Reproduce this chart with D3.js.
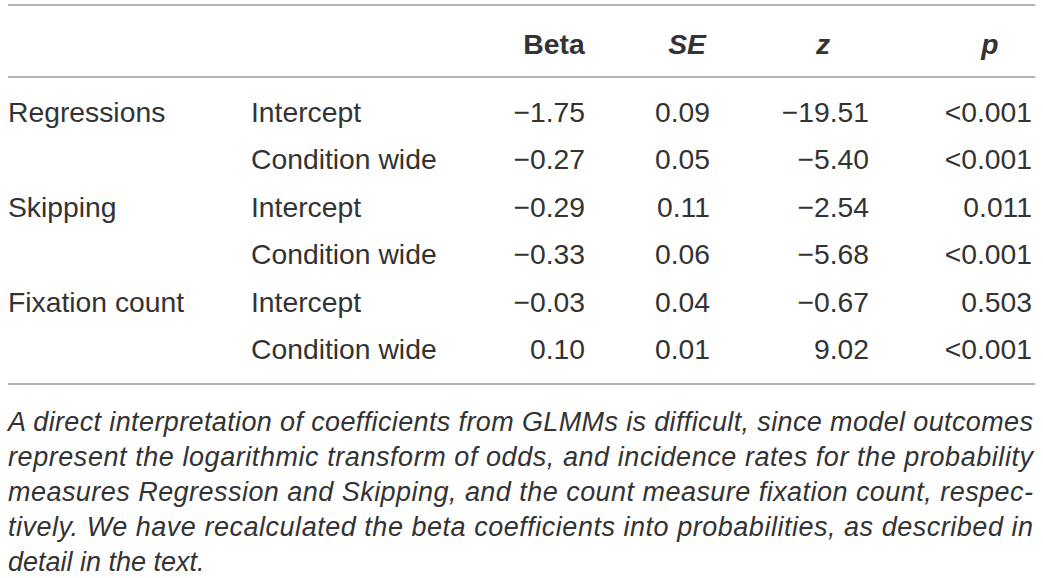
<!DOCTYPE html>
<html>
<head>
  <meta charset="utf-8">
  <script src="https://d3js.org/d3.v7.min.js"></script>
  <style>
    body { margin: 0; background: #fff; }
    svg text { font-family: "Liberation Sans", Arial, sans-serif; fill: #333; }
  </style>
</head>
<body>
  <svg id="table" width="1043" height="578"></svg>
  <script>
    // Table content
    const HEADERS   = ["Beta", "SE", "z", "p"];
    const MEASURES  = ["Regressions", "", "Skipping", "", "Fixation count", ""];
    const EFFECTS   = ["Intercept", "Condition wide", "Intercept", "Condition wide", "Intercept", "Condition wide"];
    const BETA      = ["\u22121.75", "\u22120.27", "\u22120.29", "\u22120.33", "\u22120.03", "0.10"];
    const SE        = ["0.09", "0.05", "0.11", "0.06", "0.04", "0.01"];
    const Z         = ["\u221219.51", "\u22125.40", "\u22122.54", "\u22125.68", "\u22120.67", "9.02"];
    const P         = ["<0.001", "<0.001", "0.011", "<0.001", "0.503", "<0.001"];
    const NOTE      = [
      "A direct interpretation of coefficients from GLMMs is difficult, since model outcomes",
      "represent the logarithmic transform of odds, and incidence rates for the probability",
      "measures Regression and Skipping, and the count measure fixation count, respec-",
      "tively. We have recalculated the beta coefficients into probabilities, as described in",
      "detail in the text."
    ];

    // Layout
    const LEFT        = 8;
    const RIGHT       = 1035;
    const FONT_SIZE   = 28.3;
    const NOTE_SIZE   = 27;
    const LINE_COLOR  = "#9a9a9a";
    const COL_LABEL   = [8, 251];                 // left-aligned text columns
    const COL_NUM     = [585, 710, 869, 1032];    // right edges of numeric columns
    const COL_HEAD    = [554, 687, 823, 990];     // header centres
    const ITALIC_HEAD = [false, true, true, true];

    const svg = d3.select("#table");

    const yRow  = d3.scaleLinear().domain([0, MEASURES.length - 1]).range([112, 349]);
    const yNote = d3.scaleLinear().domain([0, NOTE.length - 1]).range([422, 562]);

    // rules
    svg.selectAll(".rule").data([5, 77, 384]).enter().append("line")
      .attr("class", "rule")
      .attr("x1", LEFT).attr("x2", RIGHT)
      .attr("y1", d => d).attr("y2", d => d)
      .attr("stroke", LINE_COLOR).attr("stroke-width", 1.6);

    // header
    svg.selectAll(".head").data(HEADERS).enter().append("text")
      .attr("class", "head")
      .attr("x", (d, i) => COL_HEAD[i]).attr("y", 44).attr("dy", "0.35em")
      .attr("text-anchor", "middle")
      .style("font-size", FONT_SIZE + "px")
      .style("font-weight", "bold")
      .style("font-style", (d, i) => ITALIC_HEAD[i] ? "italic" : "normal")
      .text(d => d);

    // body text columns
    [MEASURES, EFFECTS].forEach((col, c) => {
      svg.selectAll(".lab" + c).data(col).enter().append("text")
        .attr("class", "lab" + c)
        .attr("x", COL_LABEL[c]).attr("y", (d, i) => yRow(i)).attr("dy", "0.35em")
        .style("font-size", FONT_SIZE + "px")
        .text(d => d);
    });

    [BETA, SE, Z, P].forEach((col, c) => {
      svg.selectAll(".num" + c).data(col).enter().append("text")
        .attr("class", "num" + c)
        .attr("x", COL_NUM[c]).attr("y", (d, i) => yRow(i)).attr("dy", "0.35em")
        .attr("text-anchor", "end")
        .style("font-size", FONT_SIZE + "px")
        .text(d => d);
    });

    // footnote, justified except the last line
    svg.selectAll(".note").data(NOTE).enter().append("text")
      .attr("class", "note")
      .attr("x", LEFT).attr("y", (d, i) => yNote(i)).attr("dy", "0.35em")
      .style("font-size", NOTE_SIZE + "px")
      .style("font-style", "italic")
      .each(function (d, i) {
        if (i < NOTE.length - 1) {
          d3.select(this).attr("textLength", 1033 - LEFT).attr("lengthAdjust", "spacing");
        }
      })
      .text(d => d);
  </script>
</body>
</html>
